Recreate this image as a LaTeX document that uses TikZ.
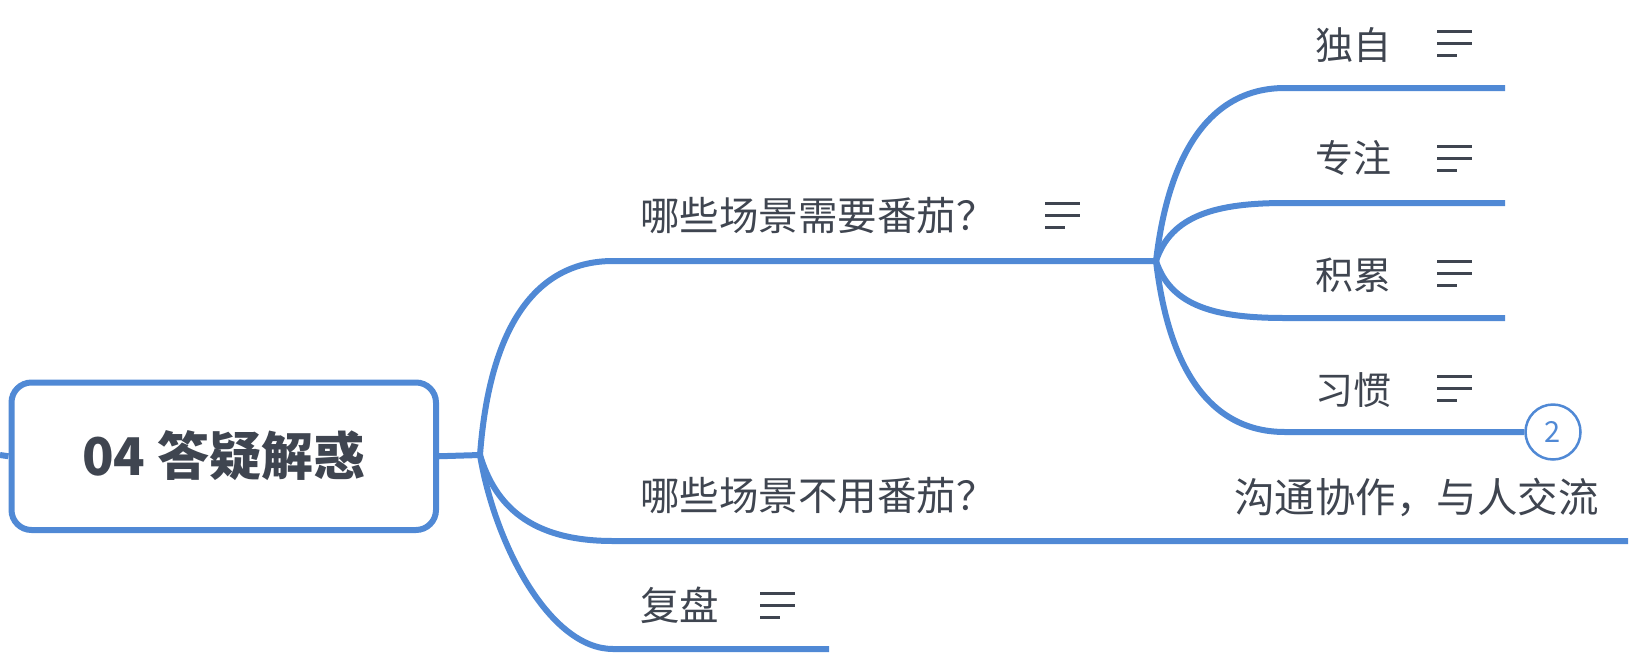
\documentclass[tikz,border=0pt]{standalone}
\usepackage{fontspec}
\setmainfont{Noto Sans CJK SC}
\definecolor{mapblue}{HTML}{5089D5}
\definecolor{maptext}{HTML}{3F4550}
\tikzset{
  x=1pt, y=-1pt,
  branch/.style={draw=mapblue, line width=6pt, line cap=butt},
  rootbox/.style={draw=mapblue, line width=6pt, rounded corners=20pt, fill=white,
    minimum width=424.5pt, minimum height=147.5pt, inner sep=0pt,
    text=maptext, font=\fontsize{52}{60}\selectfont\bfseries, text height=38pt, text depth=0pt},
  topic/.style={anchor=base west, inner sep=0pt, text=maptext, font=\fontsize{39.5}{46}\selectfont},
  widetopic/.style={topic, font=\fontsize{40.5}{46}\selectfont},
  subtopic/.style={anchor=base west, inner sep=0pt, text=maptext, font=\fontsize{38}{44}\selectfont},
  noteline/.style={draw=maptext, line width=3pt},
  countbadge/.style={circle, draw=mapblue, line width=2.5pt, fill=white, minimum size=55pt, inner sep=0pt,
    text=mapblue, font=\fontsize{29}{32}\selectfont},
}
\newcommand{\noteicon}[1]{%
  \draw[noteline] (#1) -- ++(35,0) (#1) ++(0,12) -- ++(35,0) (#1) ++(0,24) -- ++(20,0);}
\begin{document}
\begin{tikzpicture}
\useasboundingbox (0,0) rectangle (1636,670);
% coordinates
\coordinate (stub) at (0,455);
\coordinate (j0) at (480,455);
\coordinate (b1s) at (613,261);
\coordinate (j1) at (1156,261);
\coordinate (b2s) at (613,541);
\coordinate (b2e) at (1628,541);
\coordinate (b3s) at (613,649);
\coordinate (b3e) at (829,649);
\coordinate (s1s) at (1285,88);  \coordinate (s1e) at (1505,88);
\coordinate (s2s) at (1285,203); \coordinate (s2e) at (1505,203);
\coordinate (s3s) at (1285,318); \coordinate (s3e) at (1505,318);
\coordinate (s4s) at (1285,432);
% root
\node[rootbox] (root) at (223.75,456.25) {04 答疑解惑};
\draw[branch] (stub) -- (root.west);
\draw[branch] (root.east) -- (j0);
% main branches
\draw[branch] (j0) .. controls (490,320) and (540,261) .. (b1s) -- (j1);
\draw[branch] (j0) .. controls (495,505) and (530,541) .. (b2s) -- (b2e);
\draw[branch] (j0) .. controls (495,545) and (550,649) .. (b3s) -- (b3e);
% sub branches
\node[countbadge] (badge) at (1553,432) {2};
\draw[branch] (j1) .. controls (1169,150) and (1212,88) .. (s1s) -- (s1e);
\draw[branch] (j1) .. controls (1171,215) and (1217,203) .. (s2s) -- (s2e);
\draw[branch] (j1) .. controls (1171,307) and (1217,318) .. (s3s) -- (s3e);
\draw[branch] (j1) .. controls (1169,372) and (1212,432) .. (s4s) -- (badge.west);
% texts
\node[topic] (t1) at (640,230) {哪些场景需要番茄？};
\node[topic] (t2) at (640,510) {哪些场景不用番茄？};
\node[widetopic] (t2a) at (1234,512) {沟通协作，与人交流};
\node[topic] (t3) at (640,620) {复盘};
\node[subtopic] (u1) at (1315,59) {独自};
\node[subtopic] (u2) at (1315,172) {专注};
\node[subtopic] (u3) at (1315,289) {积累};
\node[subtopic] (u4) at (1315,404) {习惯};
% note icons
\coordinate (n1) at (1045,203);
\coordinate (n3) at (760,593);
\coordinate (m1) at (1437,31);
\coordinate (m2) at (1437,146);
\coordinate (m3) at (1437,261);
\coordinate (m4) at (1437,376);
\noteicon{n1}
\noteicon{n3}
\noteicon{m1}
\noteicon{m2}
\noteicon{m3}
\noteicon{m4}
\end{tikzpicture}
\end{document}
